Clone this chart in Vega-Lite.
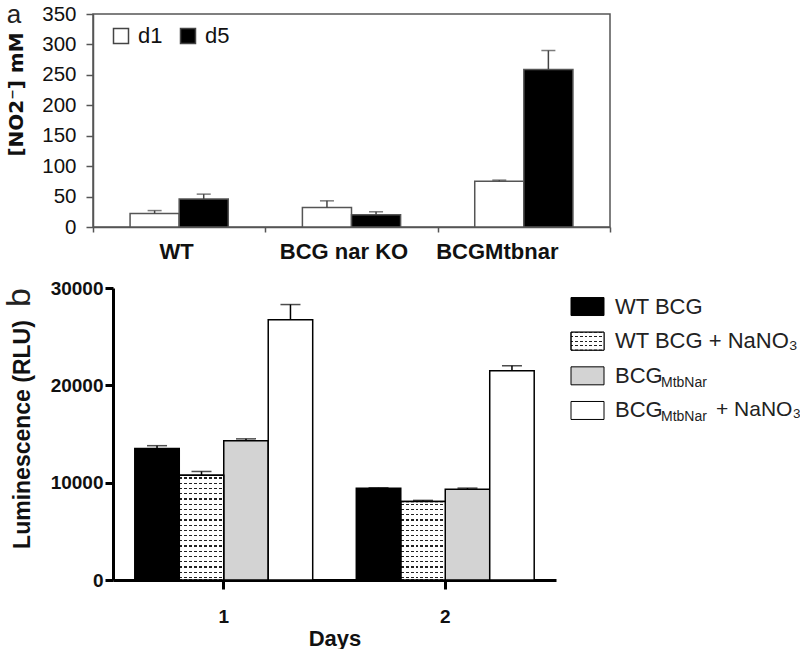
{
  "$schema": "https://vega.github.io/schema/vega-lite/v6.json",
  "background": "white",
  "padding": {"left": 3, "top": 1, "right": 0, "bottom": 0},
  "config": {"font": "Liberation Sans", "view": {"stroke": null}},
  "datasets": {
    "nitrite": [
      {"strain": "WT", "day": "d1", "value": 22, "upper": 27},
      {"strain": "WT", "day": "d5", "value": 46, "upper": 54},
      {"strain": "BCG nar KO", "day": "d1", "value": 32, "upper": 43},
      {"strain": "BCG nar KO", "day": "d5", "value": 20, "upper": 25},
      {"strain": "BCGMtbnar", "day": "d1", "value": 75, "upper": 77},
      {"strain": "BCGMtbnar", "day": "d5", "value": 259, "upper": 290}
    ],
    "lum": [
      {"day": "1", "group": "WT BCG", "value": 13500, "upper": 13800},
      {"day": "1", "group": "WT BCG + NaNO3", "value": 10750, "upper": 11150},
      {"day": "1", "group": "BCG MtbNar", "value": 14300, "upper": 14500},
      {"day": "1", "group": "BCG MtbNar + NaNO3", "value": 26750, "upper": 28300},
      {"day": "2", "group": "WT BCG", "value": 9430, "upper": 9470},
      {"day": "2", "group": "WT BCG + NaNO3", "value": 8060, "upper": 8180},
      {"day": "2", "group": "BCG MtbNar", "value": 9330, "upper": 9440},
      {"day": "2", "group": "BCG MtbNar + NaNO3", "value": 21500, "upper": 22010}
    ],
    "legendRows": [
      {"group": "WT BCG", "main": "WT BCG", "sub": "", "tail": ""},
      {"group": "WT BCG + NaNO3", "main": "WT BCG + NaNO₃", "sub": "", "tail": ""},
      {"group": "BCG MtbNar", "main": "BCG", "sub": "MtbNar", "tail": ""},
      {"group": "BCG MtbNar + NaNO3", "main": "BCG", "sub": "MtbNar", "tail": "+ NaNO₃"}
    ]
  },
  "spacing": 16,
  "resolve": {"scale": {"fill": "independent", "xOffset": "independent"}},
  "vconcat": [
    {
      "width": 517,
      "height": 213,
      "view": {"stroke": "#555", "strokeWidth": 1.5},
      "title": {"text": "a", "orient": "top", "anchor": "start", "frame": "bounds", "baseline": "alphabetic", "fontSize": 26, "fontWeight": "normal", "color": "#222", "offset": -19, "dy": 26},
      "data": {"name": "nitrite"},
      "encoding": {
        "x": {"field": "strain", "type": "nominal", "sort": ["WT", "BCG nar KO", "BCGMtbnar"],
          "scale": {"paddingInner": 0, "paddingOuter": 0},
          "axis": {"title": null, "labelAngle": 0, "labelFontSize": 22, "labelFontWeight": "bold", "labelColor": "#111", "tickBand": "extent", "tickSize": 5, "tickColor": "#555", "tickWidth": 1.5, "domainColor": "#555", "domainWidth": 1.5, "labelPadding": 9,
            "labelOffset": {"condition": [{"test": "datum.value === 'BCGMtbnar'", "value": -27}, {"test": "datum.value === 'BCG nar KO'", "value": -8}], "value": -3}}},
        "xOffset": {"field": "day", "type": "nominal", "sort": ["d1", "d5"], "scale": {"paddingInner": 0, "paddingOuter": 0.755}}
      },
      "layer": [
        {
          "mark": {"type": "bar", "stroke": "#555", "strokeWidth": 1.5},
          "encoding": {
            "y": {"field": "value", "type": "quantitative", "scale": {"domain": [0, 350], "nice": false},
              "axis": {"title": "[NO2⁻] mM", "titleFont": "DejaVu Sans", "titleFontSize": 20, "titleFontWeight": "bold", "titleColor": "#111", "titlePadding": 15, "titleY": 80,
                "values": [0, 50, 100, 150, 200, 250, 300, 350], "labelOverlap": false, "labelFontSize": 20.5, "labelColor": "#111", "labelPadding": 10, "tickSize": 7, "tickColor": "#555", "tickWidth": 1.5, "domainColor": "#555", "domainWidth": 1.5, "grid": false}},
            "fill": {"field": "day", "type": "nominal", "scale": {"domain": ["d1", "d5"], "range": ["#ffffff", "#000000"]},
              "legend": {"title": null, "orient": "none", "legendX": 17, "legendY": 11, "direction": "horizontal", "symbolType": "square", "symbolSize": 225, "symbolStrokeColor": "#444", "symbolStrokeWidth": 1.5, "labelFontSize": 22, "labelColor": "#111", "labelOffset": 6, "columnPadding": 14}}
          }
        },
        {
          "mark": {"type": "rule", "color": "#444", "strokeWidth": 1.5},
          "encoding": {
            "y": {"field": "value", "type": "quantitative",
              "axis": {"title": "[NO2⁻] mM", "titleFont": "DejaVu Sans", "titleFontSize": 20, "titleFontWeight": "bold", "titleColor": "#111", "titlePadding": 15, "titleY": 80,
                "values": [0, 50, 100, 150, 200, 250, 300, 350], "labelOverlap": false, "labelFontSize": 20.5, "labelColor": "#111", "labelPadding": 10, "tickSize": 7, "tickColor": "#555", "tickWidth": 1.5, "domainColor": "#555", "domainWidth": 1.5, "grid": false}},
            "y2": {"field": "upper"}}
        },
        {
          "mark": {"type": "tick", "color": "#444", "thickness": 1.5, "size": 14},
          "encoding": {
            "y": {"field": "upper", "type": "quantitative",
              "axis": {"title": "[NO2⁻] mM", "titleFont": "DejaVu Sans", "titleFontSize": 20, "titleFontWeight": "bold", "titleColor": "#111", "titlePadding": 15, "titleY": 80,
                "values": [0, 50, 100, 150, 200, 250, 300, 350], "labelOverlap": false, "labelFontSize": 20.5, "labelColor": "#111", "labelPadding": 10, "tickSize": 7, "tickColor": "#555", "tickWidth": 1.5, "domainColor": "#555", "domainWidth": 1.5, "grid": false}}}
        }
      ]
    },
    {
      "spacing": 13,
      "hconcat": [
        {
          "width": 463,
          "height": 292,
          "title": {"text": "b", "orient": "left", "anchor": "end", "frame": "group", "baseline": "alphabetic", "fontSize": 34, "fontWeight": "normal", "color": "#222", "offset": -53},
          "data": {"name": "lum"},
          "encoding": {
            "x": {"field": "day", "type": "nominal", "scale": {"range": [20, 463], "paddingInner": 0, "paddingOuter": 0},
              "axis": {"title": "Days", "titleFontSize": 22, "titleFontWeight": "bold", "titleColor": "#111", "titlePadding": 2, "labelAngle": 0, "labelFontSize": 19, "labelFontWeight": "bold", "labelColor": "#111", "labelPadding": 18, "tickSize": 9, "tickWidth": 3, "tickColor": "#000", "domainWidth": 3, "domainColor": "#000"}},
            "xOffset": {"field": "group", "type": "nominal", "sort": ["WT BCG", "WT BCG + NaNO3", "BCG MtbNar", "BCG MtbNar + NaNO3"], "scale": {"paddingInner": 0, "paddingOuter": 0.49}}
          },
          "layer": [
            {
              "mark": {"type": "bar", "stroke": "#000", "strokeWidth": 1.5},
              "encoding": {
                "y": {"field": "value", "type": "quantitative", "scale": {"domain": [0, 30000], "nice": false},
                  "axis": {"offset": -20, "title": "Luminescence (RLU)", "titleFontSize": 23, "titleFontWeight": "bold", "titleColor": "#111", "titlePadding": 16, "values": [0, 10000, 20000, 30000], "format": "d", "labelOverlap": false, "labelFontSize": 19, "labelFontWeight": "bold", "labelColor": "#111", "labelPadding": 2, "tickSize": 8, "tickWidth": 3, "tickColor": "#000", "domainWidth": 3, "domainColor": "#000", "grid": false}},
                "fill": {
                  "condition": [
                    {"test": "datum.group === 'WT BCG + NaNO3' && datum.day === '1'", "value": {"gradient": "linear", "x1": 0, "y1": 0, "x2": 0, "y2": 1, "stops": [
                      {"offset": 0, "color": "#fff"},
                      {"offset": 0.02, "color": "#fff"}, {"offset": 0.02, "color": "#222"}, {"offset": 0.032, "color": "#222"}, {"offset": 0.032, "color": "#fff"},
                      {"offset": 0.07, "color": "#fff"}, {"offset": 0.07, "color": "#222"}, {"offset": 0.082, "color": "#222"}, {"offset": 0.082, "color": "#fff"},
                      {"offset": 0.12, "color": "#fff"}, {"offset": 0.12, "color": "#222"}, {"offset": 0.132, "color": "#222"}, {"offset": 0.132, "color": "#fff"},
                      {"offset": 0.17, "color": "#fff"}, {"offset": 0.17, "color": "#222"}, {"offset": 0.182, "color": "#222"}, {"offset": 0.182, "color": "#fff"},
                      {"offset": 0.22, "color": "#fff"}, {"offset": 0.22, "color": "#222"}, {"offset": 0.232, "color": "#222"}, {"offset": 0.232, "color": "#fff"},
                      {"offset": 0.27, "color": "#fff"}, {"offset": 0.27, "color": "#222"}, {"offset": 0.282, "color": "#222"}, {"offset": 0.282, "color": "#fff"},
                      {"offset": 0.32, "color": "#fff"}, {"offset": 0.32, "color": "#222"}, {"offset": 0.332, "color": "#222"}, {"offset": 0.332, "color": "#fff"},
                      {"offset": 0.37, "color": "#fff"}, {"offset": 0.37, "color": "#222"}, {"offset": 0.382, "color": "#222"}, {"offset": 0.382, "color": "#fff"},
                      {"offset": 0.42, "color": "#fff"}, {"offset": 0.42, "color": "#222"}, {"offset": 0.432, "color": "#222"}, {"offset": 0.432, "color": "#fff"},
                      {"offset": 0.47, "color": "#fff"}, {"offset": 0.47, "color": "#222"}, {"offset": 0.482, "color": "#222"}, {"offset": 0.482, "color": "#fff"},
                      {"offset": 0.52, "color": "#fff"}, {"offset": 0.52, "color": "#222"}, {"offset": 0.532, "color": "#222"}, {"offset": 0.532, "color": "#fff"},
                      {"offset": 0.57, "color": "#fff"}, {"offset": 0.57, "color": "#222"}, {"offset": 0.582, "color": "#222"}, {"offset": 0.582, "color": "#fff"},
                      {"offset": 0.62, "color": "#fff"}, {"offset": 0.62, "color": "#222"}, {"offset": 0.632, "color": "#222"}, {"offset": 0.632, "color": "#fff"},
                      {"offset": 0.67, "color": "#fff"}, {"offset": 0.67, "color": "#222"}, {"offset": 0.682, "color": "#222"}, {"offset": 0.682, "color": "#fff"},
                      {"offset": 0.72, "color": "#fff"}, {"offset": 0.72, "color": "#222"}, {"offset": 0.732, "color": "#222"}, {"offset": 0.732, "color": "#fff"},
                      {"offset": 0.77, "color": "#fff"}, {"offset": 0.77, "color": "#222"}, {"offset": 0.782, "color": "#222"}, {"offset": 0.782, "color": "#fff"},
                      {"offset": 0.82, "color": "#fff"}, {"offset": 0.82, "color": "#222"}, {"offset": 0.832, "color": "#222"}, {"offset": 0.832, "color": "#fff"},
                      {"offset": 0.87, "color": "#fff"}, {"offset": 0.87, "color": "#222"}, {"offset": 0.882, "color": "#222"}, {"offset": 0.882, "color": "#fff"},
                      {"offset": 0.92, "color": "#fff"}, {"offset": 0.92, "color": "#222"}, {"offset": 0.932, "color": "#222"}, {"offset": 0.932, "color": "#fff"},
                      {"offset": 0.97, "color": "#fff"}, {"offset": 0.97, "color": "#222"}, {"offset": 0.982, "color": "#222"}, {"offset": 0.982, "color": "#fff"},
                      {"offset": 1, "color": "#fff"}
                    ]}},
                    {"test": "datum.group === 'WT BCG + NaNO3'", "value": {"gradient": "linear", "x1": 0, "y1": 0, "x2": 0, "y2": 1, "stops": [
                      {"offset": 0, "color": "#fff"},
                      {"offset": 0.026, "color": "#fff"}, {"offset": 0.026, "color": "#222"}, {"offset": 0.042, "color": "#222"}, {"offset": 0.042, "color": "#fff"},
                      {"offset": 0.093, "color": "#fff"}, {"offset": 0.093, "color": "#222"}, {"offset": 0.109, "color": "#222"}, {"offset": 0.109, "color": "#fff"},
                      {"offset": 0.159, "color": "#fff"}, {"offset": 0.159, "color": "#222"}, {"offset": 0.175, "color": "#222"}, {"offset": 0.175, "color": "#fff"},
                      {"offset": 0.226, "color": "#fff"}, {"offset": 0.226, "color": "#222"}, {"offset": 0.242, "color": "#222"}, {"offset": 0.242, "color": "#fff"},
                      {"offset": 0.293, "color": "#fff"}, {"offset": 0.293, "color": "#222"}, {"offset": 0.309, "color": "#222"}, {"offset": 0.309, "color": "#fff"},
                      {"offset": 0.359, "color": "#fff"}, {"offset": 0.359, "color": "#222"}, {"offset": 0.375, "color": "#222"}, {"offset": 0.375, "color": "#fff"},
                      {"offset": 0.426, "color": "#fff"}, {"offset": 0.426, "color": "#222"}, {"offset": 0.442, "color": "#222"}, {"offset": 0.442, "color": "#fff"},
                      {"offset": 0.493, "color": "#fff"}, {"offset": 0.493, "color": "#222"}, {"offset": 0.509, "color": "#222"}, {"offset": 0.509, "color": "#fff"},
                      {"offset": 0.56, "color": "#fff"}, {"offset": 0.56, "color": "#222"}, {"offset": 0.576, "color": "#222"}, {"offset": 0.576, "color": "#fff"},
                      {"offset": 0.626, "color": "#fff"}, {"offset": 0.626, "color": "#222"}, {"offset": 0.642, "color": "#222"}, {"offset": 0.642, "color": "#fff"},
                      {"offset": 0.693, "color": "#fff"}, {"offset": 0.693, "color": "#222"}, {"offset": 0.709, "color": "#222"}, {"offset": 0.709, "color": "#fff"},
                      {"offset": 0.76, "color": "#fff"}, {"offset": 0.76, "color": "#222"}, {"offset": 0.776, "color": "#222"}, {"offset": 0.776, "color": "#fff"},
                      {"offset": 0.826, "color": "#fff"}, {"offset": 0.826, "color": "#222"}, {"offset": 0.842, "color": "#222"}, {"offset": 0.842, "color": "#fff"},
                      {"offset": 0.893, "color": "#fff"}, {"offset": 0.893, "color": "#222"}, {"offset": 0.909, "color": "#222"}, {"offset": 0.909, "color": "#fff"},
                      {"offset": 0.96, "color": "#fff"}, {"offset": 0.96, "color": "#222"}, {"offset": 0.976, "color": "#222"}, {"offset": 0.976, "color": "#fff"},
                      {"offset": 1, "color": "#fff"}
                    ]}}
                  ],
                  "field": "group", "type": "nominal",
                  "scale": {"domain": ["WT BCG", "WT BCG + NaNO3", "BCG MtbNar", "BCG MtbNar + NaNO3"], "range": ["#000000", "#ffffff", "#d3d3d3", "#ffffff"]},
                  "legend": null
                }
              }
            },
            {
              "transform": [{"filter": "datum.group === 'WT BCG + NaNO3'"}],
              "mark": {"type": "bar", "stroke": "#000", "strokeWidth": 1.5, "fill": {"gradient": "linear", "x1": 0, "y1": 0, "x2": 1, "y2": 0, "stops": [
                {"offset": 0, "color": "rgba(255,255,255,0)"},
                {"offset": 0.065, "color": "rgba(255,255,255,0)"}, {"offset": 0.065, "color": "#fff"}, {"offset": 0.11, "color": "#fff"}, {"offset": 0.11, "color": "rgba(255,255,255,0)"},
                {"offset": 0.176, "color": "rgba(255,255,255,0)"}, {"offset": 0.176, "color": "#fff"}, {"offset": 0.221, "color": "#fff"}, {"offset": 0.221, "color": "rgba(255,255,255,0)"},
                {"offset": 0.287, "color": "rgba(255,255,255,0)"}, {"offset": 0.287, "color": "#fff"}, {"offset": 0.332, "color": "#fff"}, {"offset": 0.332, "color": "rgba(255,255,255,0)"},
                {"offset": 0.398, "color": "rgba(255,255,255,0)"}, {"offset": 0.398, "color": "#fff"}, {"offset": 0.443, "color": "#fff"}, {"offset": 0.443, "color": "rgba(255,255,255,0)"},
                {"offset": 0.509, "color": "rgba(255,255,255,0)"}, {"offset": 0.509, "color": "#fff"}, {"offset": 0.554, "color": "#fff"}, {"offset": 0.554, "color": "rgba(255,255,255,0)"},
                {"offset": 0.62, "color": "rgba(255,255,255,0)"}, {"offset": 0.62, "color": "#fff"}, {"offset": 0.665, "color": "#fff"}, {"offset": 0.665, "color": "rgba(255,255,255,0)"},
                {"offset": 0.731, "color": "rgba(255,255,255,0)"}, {"offset": 0.731, "color": "#fff"}, {"offset": 0.776, "color": "#fff"}, {"offset": 0.776, "color": "rgba(255,255,255,0)"},
                {"offset": 0.842, "color": "rgba(255,255,255,0)"}, {"offset": 0.842, "color": "#fff"}, {"offset": 0.887, "color": "#fff"}, {"offset": 0.887, "color": "rgba(255,255,255,0)"},
                {"offset": 0.953, "color": "rgba(255,255,255,0)"}, {"offset": 0.953, "color": "#fff"}, {"offset": 0.998, "color": "#fff"}, {"offset": 0.998, "color": "rgba(255,255,255,0)"},
                {"offset": 1, "color": "rgba(255,255,255,0)"}
              ]}},
              "encoding": {"y": {"field": "value", "type": "quantitative"}}
            },
            {
              "mark": {"type": "rule", "color": "#000", "strokeWidth": 1.5},
              "encoding": {"y": {"field": "value", "type": "quantitative"}, "y2": {"field": "upper"}}
            },
            {
              "mark": {"type": "tick", "color": "#000", "thickness": 1.5, "size": 20},
              "encoding": {"y": {"field": "upper", "type": "quantitative",
                "axis": {"offset": -20, "title": "Luminescence (RLU)", "titleFontSize": 23, "titleFontWeight": "bold", "titleColor": "#111", "titlePadding": 16, "values": [0, 10000, 20000, 30000], "format": "d", "labelOverlap": false, "labelFontSize": 19, "labelFontWeight": "bold", "labelColor": "#111", "labelPadding": 2, "tickSize": 8, "tickWidth": 3, "tickColor": "#000", "domainWidth": 3, "domainColor": "#000", "grid": false}}}
            }
          ]
        },
        {
          "width": 230,
          "height": 141,
          "data": {"name": "legendRows"},
          "encoding": {
            "y": {"field": "group", "type": "nominal", "sort": ["WT BCG", "WT BCG + NaNO3", "BCG MtbNar", "BCG MtbNar + NaNO3"], "scale": {"type": "point", "padding": 0.535}, "axis": null}
          },
          "layer": [
            {
              "mark": {"type": "point", "shape": "M-1,-0.545H1V0.545H-1Z", "size": 1089, "filled": true, "opacity": 1, "stroke": "#000", "strokeWidth": 1},
              "encoding": {
                "x": {"value": 16.5},
                "fill": {
                  "condition": {"test": "datum.group === 'WT BCG + NaNO3'", "value": {"gradient": "linear", "x1": 0, "y1": 0, "x2": 0, "y2": 1, "stops": [
                    {"offset": 0, "color": "#fff"},
                    {"offset": 0.22, "color": "#fff"}, {"offset": 0.22, "color": "#222"}, {"offset": 0.29, "color": "#222"}, {"offset": 0.29, "color": "#fff"},
                    {"offset": 0.47, "color": "#fff"}, {"offset": 0.47, "color": "#222"}, {"offset": 0.54, "color": "#222"}, {"offset": 0.54, "color": "#fff"},
                    {"offset": 0.72, "color": "#fff"}, {"offset": 0.72, "color": "#222"}, {"offset": 0.79, "color": "#222"}, {"offset": 0.79, "color": "#fff"},
                    {"offset": 1, "color": "#fff"}
                  ]}},
                  "field": "group", "type": "nominal",
                  "scale": {"domain": ["WT BCG", "WT BCG + NaNO3", "BCG MtbNar", "BCG MtbNar + NaNO3"], "range": ["#000000", "#ffffff", "#d3d3d3", "#ffffff"]},
                  "legend": null
                }
              }
            },
            {
              "transform": [{"filter": "datum.group === 'WT BCG + NaNO3'"}],
              "mark": {"type": "point", "shape": "M-1,-0.545H1V0.545H-1Z", "size": 1089, "filled": true, "opacity": 1, "stroke": "#000", "strokeWidth": 1, "fill": {"gradient": "linear", "x1": 0, "y1": 0, "x2": 1, "y2": 0, "stops": [
                {"offset": 0, "color": "rgba(255,255,255,0)"},
                {"offset": 0.07, "color": "rgba(255,255,255,0)"}, {"offset": 0.07, "color": "#fff"}, {"offset": 0.13, "color": "#fff"}, {"offset": 0.13, "color": "rgba(255,255,255,0)"},
                {"offset": 0.213, "color": "rgba(255,255,255,0)"}, {"offset": 0.213, "color": "#fff"}, {"offset": 0.273, "color": "#fff"}, {"offset": 0.273, "color": "rgba(255,255,255,0)"},
                {"offset": 0.356, "color": "rgba(255,255,255,0)"}, {"offset": 0.356, "color": "#fff"}, {"offset": 0.416, "color": "#fff"}, {"offset": 0.416, "color": "rgba(255,255,255,0)"},
                {"offset": 0.499, "color": "rgba(255,255,255,0)"}, {"offset": 0.499, "color": "#fff"}, {"offset": 0.559, "color": "#fff"}, {"offset": 0.559, "color": "rgba(255,255,255,0)"},
                {"offset": 0.642, "color": "rgba(255,255,255,0)"}, {"offset": 0.642, "color": "#fff"}, {"offset": 0.702, "color": "#fff"}, {"offset": 0.702, "color": "rgba(255,255,255,0)"},
                {"offset": 0.785, "color": "rgba(255,255,255,0)"}, {"offset": 0.785, "color": "#fff"}, {"offset": 0.845, "color": "#fff"}, {"offset": 0.845, "color": "rgba(255,255,255,0)"},
                {"offset": 0.928, "color": "rgba(255,255,255,0)"}, {"offset": 0.928, "color": "#fff"}, {"offset": 0.988, "color": "#fff"}, {"offset": 0.988, "color": "rgba(255,255,255,0)"},
                {"offset": 1, "color": "rgba(255,255,255,0)"}
              ]}},
              "encoding": {"x": {"value": 16.5}}
            },
            {
              "mark": {"type": "text", "align": "left", "baseline": "middle", "fontSize": 22, "color": "#222"},
              "encoding": {"x": {"value": 44}, "text": {"field": "main"}}
            },
            {
              "mark": {"type": "text", "align": "left", "baseline": "middle", "fontSize": 14, "color": "#222", "dy": 7},
              "encoding": {"x": {"value": 90}, "text": {"field": "sub"}}
            },
            {
              "mark": {"type": "text", "align": "left", "baseline": "middle", "fontSize": 21, "color": "#222"},
              "encoding": {"x": {"value": 145}, "text": {"field": "tail"}}
            }
          ]
        }
      ]
    }
  ]
}
